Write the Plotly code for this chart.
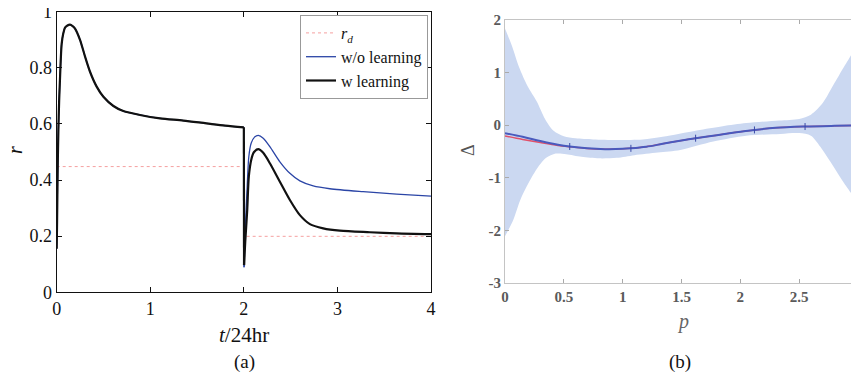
import plotly.graph_objects as go

# page body adds an 8px margin; the figure is sized to fill the rest of the 859x377 window
OFF = 8
W, H = 859 - OFF, 377 - OFF

# ---------------- panel (a) data ----------------
t_phase1 = [0, 0.004, 0.008, 0.012, 0.018, 0.026, 0.036, 0.053, 0.07, 0.089, 0.115, 0.142,
            0.17, 0.196, 0.249, 0.303, 0.356, 0.427, 0.499, 0.606, 0.712, 0.89, 1.104,
            1.354, 1.6, 1.8, 2.0]
r_phase1 = [0.155, 0.25, 0.37, 0.47, 0.578, 0.68, 0.768, 0.885, 0.922, 0.943, 0.951, 0.954,
            0.949, 0.94, 0.9, 0.84, 0.786, 0.733, 0.697, 0.664, 0.646, 0.632, 0.62,
            0.612, 0.602, 0.594, 0.588]

t_learn2 = [2.002, 2.015, 2.036, 2.053, 2.078, 2.107, 2.154, 2.207, 2.278, 2.385, 2.492,
            2.599, 2.706, 2.848, 3.026, 3.347, 3.632, 4.0]
r_learn2 = [0.097, 0.18, 0.293, 0.412, 0.471, 0.499, 0.510, 0.497, 0.46, 0.394, 0.329,
            0.275, 0.243, 0.228, 0.2195, 0.214, 0.21, 0.207]

t_nolearn2 = [2.002, 2.015, 2.036, 2.053, 2.078, 2.114, 2.154, 2.207, 2.278, 2.385, 2.492,
              2.599, 2.741, 2.919, 3.275, 3.632, 4.0]
r_nolearn2 = [0.089, 0.22, 0.38, 0.483, 0.531, 0.553, 0.559, 0.549, 0.519, 0.465, 0.424,
              0.397, 0.379, 0.369, 0.3585, 0.35, 0.343]

t_rd = [0, 1.97, None, 2.03, 4.0]
r_rd = [0.448, 0.448, None, 0.1995, 0.1995]

# ---------------- panel (b) data ----------------
p_mean = [0, 0.15, 0.3, 0.45, 0.55, 0.7, 0.85, 1.0, 1.07, 1.2, 1.34, 1.5, 1.62, 1.8, 1.95,
          2.12, 2.3, 2.55, 2.8, 3.0]
d_mean = [-0.152, -0.22, -0.30, -0.37, -0.405, -0.44, -0.455, -0.45, -0.44, -0.41, -0.354,
          -0.29, -0.247, -0.19, -0.14, -0.09, -0.05, -0.025, -0.012, -0.005]
d_true = [-0.205, -0.27, -0.33, -0.385, -0.41, -0.442, -0.456, -0.45, -0.44, -0.41, -0.354,
          -0.29, -0.247, -0.19, -0.14, -0.09, -0.05, -0.025, -0.012, -0.005]
p_obs = [0.55, 1.07, 1.62, 2.12, 2.55]
d_obs = [-0.405, -0.44, -0.247, -0.09, -0.025]

p_upper = [0, 0.06, 0.12, 0.19, 0.27, 0.34, 0.41, 0.5, 0.6, 0.75, 0.95, 1.17, 1.34, 1.63,
           1.85, 2.05, 2.33, 2.5, 2.6, 2.7, 2.8, 2.9, 3.0]
d_upper = [1.84, 1.5, 1.1, 0.75, 0.45, 0.12, -0.1, -0.21, -0.25, -0.27, -0.28, -0.27, -0.22,
           -0.1, -0.02, 0.04, 0.09, 0.12, 0.2, 0.42, 0.8, 1.18, 1.49]
p_lower = [0, 0.07, 0.13, 0.2, 0.28, 0.35, 0.43, 0.52, 0.65, 0.8, 0.95, 1.1, 1.3, 1.49, 1.77,
           2.05, 2.34, 2.5, 2.6, 2.68, 2.79, 2.9, 3.0]
d_lower = [-2.11, -1.8, -1.42, -1.1, -0.8, -0.62, -0.54, -0.55, -0.6, -0.63, -0.62, -0.57,
           -0.52, -0.47, -0.31, -0.2, -0.165, -0.15, -0.2, -0.41, -0.78, -1.16, -1.42]

x_ticks_a = [0, 1, 2, 3, 4]
y_ticks_a = [0, 0.2, 0.4, 0.6, 0.8, 1]
y_labels_a = ["0", "0.2", "0.4", "0.6", "0.8", "1"]
x_ticks_b = [0, 0.5, 1, 1.5, 2, 2.5, 3]
x_labels_b = ["0", "0.5", "1", "1.5", "2", "2.5", "3"]
y_ticks_b = [-3, -2, -1, 0, 1, 2]
y_labels_b = ["-3", "-2", "-1", "0", "1", "2"]

SERIF = "Liberation Serif"
BLUE = "#2b45a6"
BLACK = "#111111"

fig = go.Figure()

# panel (a)
fig.add_trace(go.Scatter(x=t_rd, y=r_rd, mode="lines", name="<i>r<sub>d</sub></i>",
                         line=dict(color="#f5a0a0", width=1, dash="dot"),
                         xaxis="x", yaxis="y", connectgaps=False))

def add_series(t2, r2, name, color, width, group):
    fig.add_trace(go.Scatter(x=t_phase1, y=r_phase1, mode="lines", name=name,
                             legendgroup=group, showlegend=True,
                             line=dict(color=color, width=width, shape="spline", smoothing=0.8),
                             xaxis="x", yaxis="y"))
    fig.add_trace(go.Scatter(x=[t_phase1[-1], t2[0]], y=[r_phase1[-1], r2[0]], mode="lines",
                             legendgroup=group, showlegend=False,
                             line=dict(color=color, width=width),
                             xaxis="x", yaxis="y"))
    fig.add_trace(go.Scatter(x=t2, y=r2, mode="lines", legendgroup=group, showlegend=False,
                             line=dict(color=color, width=width, shape="spline", smoothing=0.8),
                             xaxis="x", yaxis="y"))

add_series(t_nolearn2, r_nolearn2, "w/o learning", BLUE, 1.3, "nolearn")
add_series(t_learn2, r_learn2, "w learning", BLACK, 2.2, "learn")

# panel (b)
fig.add_trace(go.Scatter(x=p_upper + p_lower[::-1], y=d_upper + d_lower[::-1],
                         mode="lines", fill="toself", fillcolor="#cbd8f1",
                         line=dict(width=0, color="#cbd8f1", shape="spline", smoothing=0.8),
                         showlegend=False, xaxis="x2", yaxis="y2"))
fig.add_trace(go.Scatter(x=p_mean, y=d_true, mode="lines", showlegend=False,
                         line=dict(color="#e0506a", width=1.5, shape="spline"),
                         xaxis="x2", yaxis="y2"))
fig.add_trace(go.Scatter(x=p_mean, y=d_mean, mode="lines", showlegend=False,
                         line=dict(color="#4a5abd", width=2, shape="spline"),
                         xaxis="x2", yaxis="y2"))
fig.add_trace(go.Scatter(x=p_obs, y=d_obs, mode="markers", showlegend=False,
                         marker=dict(symbol="line-ns", size=5,
                                     line=dict(color="#3a4aa8", width=1)),
                         xaxis="x2", yaxis="y2"))

def px_x(v):
    return (v - OFF) / W

def px_y(v):
    return 1 - (v - OFF) / H

tickfont_a = dict(family=SERIF, size=18, color="#111")
tickfont_b = dict(family=SERIF, size=15, color="#5a5a5a", weight="bold")

common_a = dict(ticks="inside", ticklen=5, tickcolor="#111", showline=True, linecolor="#111",
                linewidth=1, mirror="ticks", showgrid=False, zeroline=False,
                tickfont=tickfont_a, automargin=False, ticklabeloverflow="allow")
common_b = dict(ticks="inside", ticklen=4, tickcolor="#aaa", showline=True, linecolor="#c4c4c4",
                linewidth=1, mirror="ticks", showgrid=False, zeroline=False,
                tickfont=tickfont_b, automargin=False, ticklabeloverflow="allow")

fig.update_layout(
    width=W, height=H,
    margin=dict(l=0, r=0, t=0, b=0, autoexpand=False),
    paper_bgcolor="white", plot_bgcolor="white",
    showlegend=True,
    legend=dict(x=px_x(428), y=px_y(15), xanchor="right", yanchor="top",
                bgcolor="white", bordercolor="#999", borderwidth=1,
                font=dict(family=SERIF, size=16, color="#111"),
                tracegroupgap=0, itemwidth=30),
    xaxis=dict(domain=[px_x(56.7), px_x(431)], range=[0, 4], tickvals=x_ticks_a,
               anchor="y", **common_a),
    yaxis=dict(domain=[px_y(292.3), px_y(11.7)], range=[0, 1], tickvals=y_ticks_a,
               ticktext=y_labels_a, anchor="x", **common_a),
    xaxis2=dict(domain=[px_x(505), px_x(858)], range=[0, 3], tickvals=x_ticks_b,
                ticktext=x_labels_b, anchor="y2", **common_b),
    yaxis2=dict(domain=[px_y(283), px_y(20)], range=[-3, 2], tickvals=y_ticks_b,
                ticktext=y_labels_b, anchor="x2", **common_b),
    annotations=[
        dict(text="<i>t</i>/24hr", x=px_x(244), y=px_y(335), xref="paper", yref="paper",
             showarrow=False, font=dict(family=SERIF, size=21, color="#111"),
             xanchor="center", yanchor="middle"),
        dict(text="<i>r</i>", x=px_x(15), y=px_y(150), xref="paper", yref="paper",
             showarrow=False, textangle=-90, font=dict(family=SERIF, size=20, color="#111"),
             xanchor="center", yanchor="middle"),
        dict(text="(a)", x=px_x(244), y=px_y(362), xref="paper", yref="paper",
             showarrow=False, font=dict(family=SERIF, size=19, color="#111"),
             xanchor="center", yanchor="middle"),
        dict(text="<i>p</i>", x=px_x(683), y=px_y(321), xref="paper", yref="paper",
             showarrow=False, font=dict(family=SERIF, size=20, color="#666"),
             xanchor="center", yanchor="middle"),
        dict(text="Δ", x=px_x(468), y=px_y(150), xref="paper", yref="paper",
             showarrow=False, textangle=-90, font=dict(family=SERIF, size=18, color="#555"),
             xanchor="center", yanchor="middle"),
        dict(text="(b)", x=px_x(680), y=px_y(362), xref="paper", yref="paper",
             showarrow=False, font=dict(family=SERIF, size=19, color="#111"),
             xanchor="center", yanchor="middle"),
    ],
)

fig.write_html("out.html")
